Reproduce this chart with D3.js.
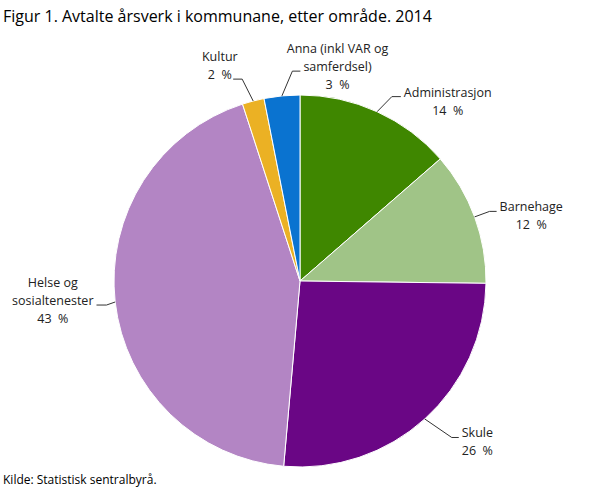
<!DOCTYPE html>
<html>
<head>
<meta charset="utf-8">
<script src="https://cdn.jsdelivr.net/npm/d3@7"></script>
<style>
  body { margin: 0; background: #fff; }
  text { font-family: "Open Sans", sans-serif; }
</style>
</head>
<body>
<svg></svg>
<script>
const size = {w: 609, h: 488};
const svg = d3.select('svg').attr('width', size.w).attr('height', size.h);

// data
const categories = ['Administrasjon', 'Barnehage', 'Skule', 'Helse og sosialtenester', 'Kultur', 'Anna (inkl VAR og samferdsel)'];
const shares = [13.6, 11.6, 26.2, 43.6, 1.9, 3.1];
const shareLabels = ['14 %', '12 %', '26 %', '43 %', '2 %', '3 %'];
const labelLines = [
    ['Administrasjon'],
    ['Barnehage'],
    ['Skule'],
    ['Helse og', 'sosialtenester'],
    ['Kultur'],
    ['Anna (inkl VAR og', 'samferdsel)']
];
const colors = ['#3f8700', '#a0c487', '#6a0685', '#b385c4', '#ebb124', '#0a73d0'];

// label layout: elbow distance beyond radius, angle shift (deg), side, line the connector points to
const labelLayout = [
    {ext: 20, shift: 2, side: 1, line: 0, seg: 9},
    {ext: 16, shift: 0, side: 1, line: 0, seg: 7},
    {ext: 32, shift: -2, side: 1, line: 0, seg: 7},
    {ext: 9, shift: -0.6, side: -1, line: 1, seg: 10},
    {ext: 24, shift: -1.4, side: -1, line: 1, seg: 9},
    {ext: 24, shift: 3.5, side: 1, line: 1, seg: 8}
];

const cx = 300, cy = 281, r = 186;
const lineH = 18;
const fs = '12.5px';

svg.append('text')
    .attr('x', 3).attr('y', 22)
    .style('font-size', '16px')
    .attr('fill', '#000')
    .text('Figur 1. Avtalte årsverk i kommunane, etter område. 2014');

svg.append('text')
    .attr('x', 3).attr('y', 484)
    .style('font-size', '12px')
    .attr('fill', '#000')
    .text('Kilde: Statistisk sentralbyrå.');

const rows = categories.map((c, i) => ({name: c, value: shares[i], i: i}));

const pie = d3.pie().sort(null).value(d => d.value);
const arc = d3.arc().innerRadius(0).outerRadius(r);
const arcs = pie(rows);

const g = svg.append('g').attr('transform', `translate(${cx},${cy})`);

g.selectAll('path.slice')
    .data(arcs)
    .join('path')
    .attr('class', 'slice')
    .attr('d', arc)
    .attr('fill', d => colors[d.data.i])
    .attr('stroke', '#fff')
    .attr('stroke-width', 1);

const pt = (ang, rad) => [Math.sin(ang) * rad, -Math.cos(ang) * rad];

arcs.forEach(d => {
    const i = d.data.i;
    const L = labelLayout[i];
    const mid = (d.startAngle + d.endAngle) / 2;
    const p0 = pt(mid, r);
    const p1 = pt(mid + L.shift * Math.PI / 180, r + L.ext);
    const p2 = [p1[0] + L.side * L.seg, p1[1]];

    g.append('path')
        .attr('d', d3.line()([p0, p1, p2]))
        .attr('fill', 'none')
        .attr('stroke', '#333')
        .attr('stroke-width', 1);

    const lines = labelLines[i].concat([shareLabels[i]]);
    const t = g.append('text')
        .style('font-size', fs)
        .attr('fill', '#222')
        .attr('text-anchor', 'middle');

    // measure width of attached line
    const probe = g.append('text').style('font-size', fs).text(lines[L.line]);
    const w = probe.node().getComputedTextLength();
    probe.remove();

    const tx = p2[0] + L.side * (3 + w / 2);
    lines.forEach((s, k) => {
        t.append('tspan')
            .attr('x', tx)
            .attr('y', p2[1] + (k - L.line) * lineH)
            .text(s.replace(' %', '\u00a0 %'));
    });
});
</script>
</body>
</html>
